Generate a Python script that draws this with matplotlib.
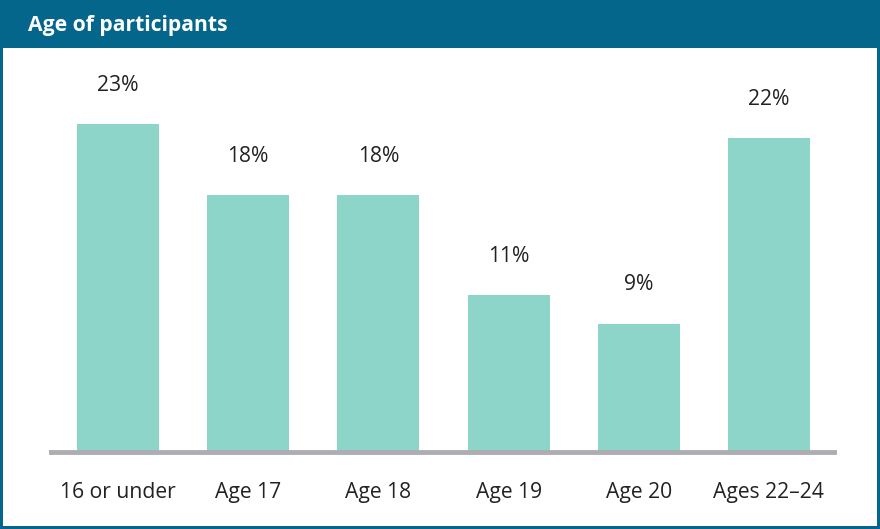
import matplotlib.pyplot as plt
from matplotlib.patches import Rectangle

plt.rcParams['font.family'] = ['Open Sans', 'DejaVu Sans']

categories = ['16 or under', 'Age 17', 'Age 18', 'Age 19', 'Age 20', 'Ages 22–24']
shares = [23, 18, 18, 11, 9, 22]

frame_col = '#05668b'
bar_col = '#8dd4c9'
base_col = '#adadb2'
text_col = '#222222'

W, H = 880, 529
fig = plt.figure(figsize=(W / 100, H / 100), dpi=100)
fig.patch.set_facecolor('white')

# outer frame and header band
fig.patches.append(Rectangle((0, 0), 1, 1, transform=fig.transFigure,
                             facecolor=frame_col, edgecolor='none', zorder=-10))
fig.patches.append(Rectangle((3 / W, 3 / H), 1 - 6 / W, (H - 48 - 3) / H,
                             transform=fig.transFigure, facecolor='white',
                             edgecolor='none', zorder=-9))
fig.text(28 / W, 1 - 25 / H, 'Age of participants', color='white',
         fontsize=15.2, fontweight='bold', va='center', ha='left')

# plot area: baseline at y=452 px, x from 51 to 834 px
ax_left, ax_right = 51, 834
ax_bottom, ax_top = 452, 48
ax = fig.add_axes([ax_left / W, 1 - ax_bottom / H,
                   (ax_right - ax_left) / W, (ax_bottom - ax_top) / H])
ax.set_facecolor('none')

x = range(len(categories))
ax.bar(x, shares, width=0.63, color=bar_col, zorder=2)
for xi, v in zip(x, shares):
    ax.annotate(f'{v}%', (xi, v), xytext=(0, 39), textcoords='offset pixels',
                ha='center', va='center', fontsize=15.2, color=text_col)

ax.set_xlim(-0.515, 5.5)
ax.set_ylim(0, (ax_bottom - ax_top) / 14.25)
ax.set_xticks(list(x))
ax.set_xticklabels(categories, fontsize=15.2, color=text_col)
ax.tick_params(axis='x', length=0, pad=21.5)
ax.set_yticks([])
for s in ['top', 'right', 'left']:
    ax.spines[s].set_visible(False)
ax.spines['bottom'].set_color(base_col)
ax.spines['bottom'].set_linewidth(3.5)
ax.spines['bottom'].set_zorder(3)

fig.savefig('out.png', dpi=100)
